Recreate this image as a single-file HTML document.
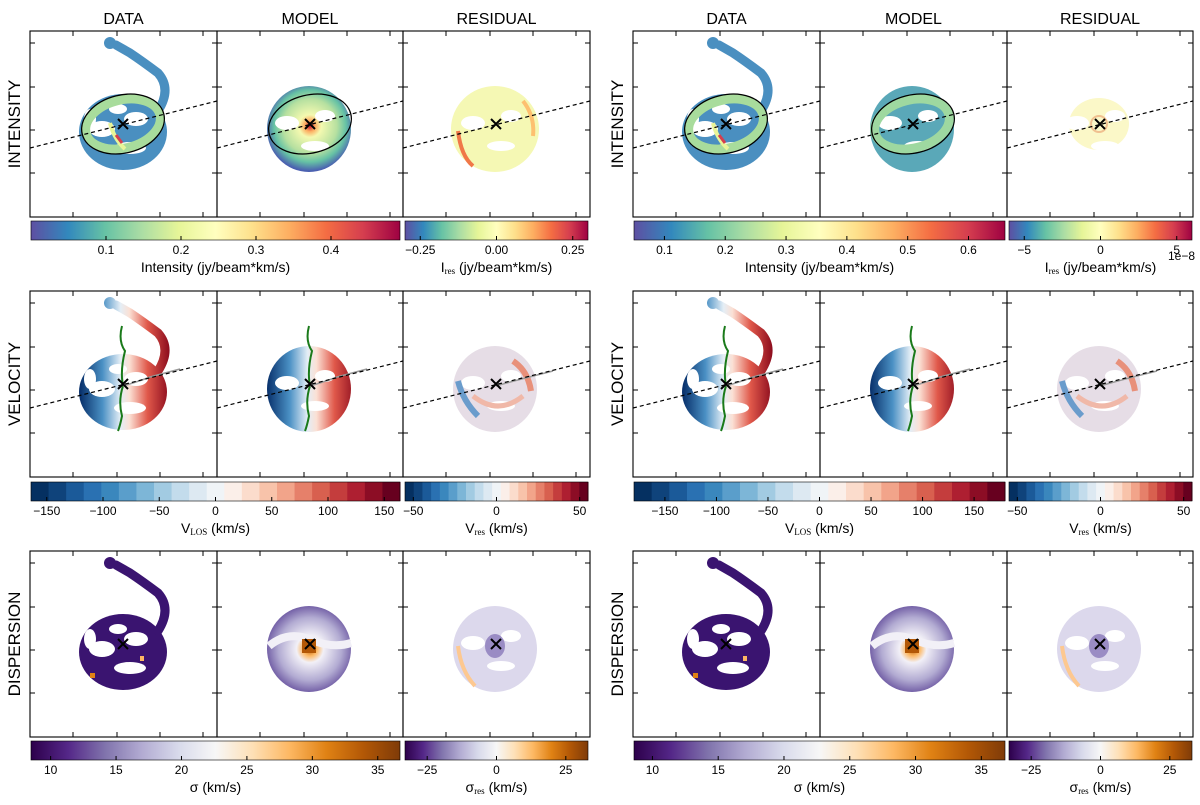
<!DOCTYPE html>
<html><head><meta charset="utf-8"><style>
body{margin:0;background:#fff}
svg{display:block;font-family:"Liberation Sans","DejaVu Sans",sans-serif}
</style></head><body>
<svg id="fig" width="1200" height="805" viewBox="0 0 1200 805" xmlns="http://www.w3.org/2000/svg">
<defs>
<linearGradient id="spectral" x1="0" x2="1"><stop offset="0" stop-color="#5e4fa2"/><stop offset=".1" stop-color="#3288bd"/><stop offset=".2" stop-color="#66c2a5"/><stop offset=".3" stop-color="#abdda4"/><stop offset=".4" stop-color="#e6f598"/><stop offset=".5" stop-color="#ffffbf"/><stop offset=".6" stop-color="#fee08b"/><stop offset=".7" stop-color="#fdae61"/><stop offset=".8" stop-color="#f46d43"/><stop offset=".9" stop-color="#d53e4f"/><stop offset="1" stop-color="#9e0142"/></linearGradient>
<linearGradient id="puor" x1="0" x2="1"><stop offset="0" stop-color="#2d004b"/><stop offset=".1" stop-color="#542788"/><stop offset=".2" stop-color="#8073ac"/><stop offset=".3" stop-color="#b2abd2"/><stop offset=".4" stop-color="#d8daeb"/><stop offset=".5" stop-color="#f7f7f7"/><stop offset=".6" stop-color="#fee0b6"/><stop offset=".7" stop-color="#fdb863"/><stop offset=".8" stop-color="#e08214"/><stop offset=".9" stop-color="#b35806"/><stop offset="1" stop-color="#7f3b08"/></linearGradient>
<linearGradient id="velg" gradientUnits="userSpaceOnUse" x1="50" x2="140"><stop offset="0" stop-color="#08306b"/><stop offset=".25" stop-color="#4a90c4"/><stop offset=".45" stop-color="#e4eef6"/><stop offset=".55" stop-color="#fbe0d4"/><stop offset=".75" stop-color="#e0584a"/><stop offset="1" stop-color="#8a0a1c"/></linearGradient>
<radialGradient id="modI" gradientUnits="userSpaceOnUse" cx="93" cy="95" r="45"><stop offset="0" stop-color="#c8102e"/><stop offset=".12" stop-color="#fdae61"/><stop offset=".25" stop-color="#f4f9b0"/><stop offset=".6" stop-color="#b6e0a0"/><stop offset=".8" stop-color="#66c2a5"/><stop offset="1" stop-color="#4a5fb0"/></radialGradient>
<radialGradient id="modS" gradientUnits="userSpaceOnUse" cx="93" cy="98" r="45"><stop offset="0" stop-color="#b35806"/><stop offset=".15" stop-color="#fdb863"/><stop offset=".3" stop-color="#f2f0f7"/><stop offset=".7" stop-color="#b2abd2"/><stop offset="1" stop-color="#6a55a0"/></radialGradient>
</defs>
<g id="panels"></g>
<g id="bars"></g>
</svg>
<script>
// ---- colorbar data ----
const cbIntL = {vmin:0, vmax:0.492, ticks:[0.1,0.2,0.3,0.4], labels:["0.1","0.2","0.3","0.4"]};
const cbIresL = {vmin:-0.30, vmax:0.30, ticks:[-0.25,0,0.25], labels:["\u22120.25","0.00","0.25"]};
const cbIntR = {vmin:0.05, vmax:0.66, ticks:[0.1,0.2,0.3,0.4,0.5,0.6], labels:["0.1","0.2","0.3","0.4","0.5","0.6"]};
const cbIresR = {vmin:-6, vmax:6, ticks:[-5,0,5], labels:["\u22125","0","5"]};
const cbVelL = {vmin:-164, vmax:164, ticks:[-150,-100,-50,0,50,100,150], labels:["\u2212150","\u2212100","\u221250","0","50","100","150"]};
const cbVelR = {vmin:-180, vmax:180, ticks:[-150,-100,-50,0,50,100,150], labels:["\u2212150","\u2212100","\u221250","0","50","100","150"]};
const cbVres = {vmin:-55, vmax:55, ticks:[-50,0,50], labels:["\u221250","0","50"]};
const cbSigL = {vmin:8.5, vmax:36.7, ticks:[10,15,20,25,30,35], labels:["10","15","20","25","30","35"]};
const cbSigR = {vmin:8.6, vmax:36.8, ticks:[10,15,20,25,30,35], labels:["10","15","20","25","30","35"]};
const cbSres = {vmin:-33, vmax:33, ticks:[-25,0,25], labels:["\u221225","0","25"]};
const rdbu = ["#053061","#0f437b","#1b5a99","#2a71b2","#3a87bd","#5a9ecb","#7db6d7","#a2cbe2","#c3dcec","#dde9f2","#f0f4f7","#fbefe9","#fbdccc","#f8c3aa","#f2a48a","#e6806a","#d8604f","#c43d3d","#ae1f31","#8c0d25","#67001f"];

const NS="http://www.w3.org/2000/svg";
function el(tag,attrs,parent){const e=document.createElementNS(NS,tag);for(const k in attrs)e.setAttribute(k,attrs[k]);if(parent)parent.appendChild(e);return e;}
const panelsG=document.getElementById('panels'), barsG=document.getElementById('bars');
const colsX=[[30,217,403,590],[633,820,1007,1193]];
const PH=186;
const rowsY=[31,291,551];
const colNames=["DATA","MODEL","RESIDUAL"], rowNames=["INTENSITY","VELOCITY","DISPERSION"];

function disk(g,fill,model){
  if(model){el('ellipse',{cx:92,cy:98,rx:42,ry:43,fill:fill},g);}
  else{
    el('ellipse',{cx:93,cy:101,rx:44,ry:38,fill:fill},g);
    el('path',{d:"M128,80 Q142,58 128,42 Q112,30 100,22 L86,14",fill:"none",stroke:fill,"stroke-width":9,"stroke-linecap":"round"},g);
    el('circle',{cx:80,cy:12,r:6,fill:fill},g);
  }
}
function holes(g,model){
  const hs=model?[[70,92,12,7],[108,85,10,6],[98,115,14,5]]:[[72,98,13,8],[106,88,12,7],[100,117,16,6],[88,78,9,5],[60,88,6,10]];
  hs.forEach(h=>el('ellipse',{cx:h[0],cy:h[1],rx:h[2],ry:h[3],fill:"#fff"},g));
}
function xmark(g){el('path',{d:"M88,88 L98,98 M98,88 L88,98",stroke:"#000","stroke-width":2},g);}
function dashed(g,w){el('line',{x1:0,y1:117,x2:w,y2:70,stroke:"#000","stroke-width":1.2,"stroke-dasharray":"4,3"},g);}

for(let gi=0;gi<2;gi++)for(let r=0;r<3;r++)for(let c=0;c<3;c++){
  const x=colsX[gi][c], y=rowsY[r], PW=colsX[gi][c+1]-x;
  const g=el('g',{transform:`translate(${x},${y})`},panelsG);
  
  
  const model=c>0;
  if(r===0){
    if(c===0){disk(g,"#4a8fc0",false);holes(g,false);
      el('ellipse',{cx:93,cy:93,rx:38,ry:24,fill:"none",stroke:"#a8dc9c","stroke-width":9,transform:"rotate(-14 93 93)"},g);
      el('path',{d:"M80,92 Q84,108 95,118",stroke:"#e8f598","stroke-width":4,fill:"none"},g);
      el('path',{d:"M86,104 L92,112",stroke:"#d53e4f","stroke-width":3},g);}
    else if(c===1){disk(g,gi? "#5aa8b8":"url(#modI)",true);holes(g,true);
      if(gi){el('ellipse',{cx:92,cy:93,rx:38,ry:24,fill:"none",stroke:"#9ed8a0","stroke-width":9,transform:"rotate(-14 92 93)"},g);}}
    else{ if(gi){el('ellipse',{cx:92,cy:93,rx:30,ry:26,fill:"#fbf8c8"},g);holes(g,true);el('circle',{cx:92,cy:93,r:8,fill:"none",stroke:"#f0c090","stroke-width":2},g);}
      else{el('ellipse',{cx:92,cy:98,rx:44,ry:43,fill:"#f5f8b4"},g);holes(g,true);
        el('path',{d:"M55,100 Q58,125 70,135",stroke:"#f07848","stroke-width":4,fill:"none"},g);
        el('path',{d:"M120,70 Q132,85 130,105",stroke:"#fdc070","stroke-width":4,fill:"none"},g);}}
    if(c<2) el('ellipse',{cx:93,cy:93,rx:42,ry:29,fill:"none",stroke:"#000","stroke-width":1.3,transform:"rotate(-14 93 93)"},g);
  } else if(r===1){
    if(c<2){disk(g,"url(#velg)",model);holes(g,model);
      el('path',{d:"M92,35 Q88,50 95,60 Q90,80 93,95 Q88,110 92,125 Q90,135 88,140",stroke:"#1a7a1a","stroke-width":2,fill:"none"},g);
      el('path',{d:"M93,95 Q110,90 120,86 Q135,82 150,78",stroke:"#999","stroke-width":1.5,fill:"none"},g);}
    else{disk(g,"#e6dde6",true);holes(g,true);
      el('path',{d:"M55,90 Q60,110 75,125",stroke:"#6a9ccc","stroke-width":6,fill:"none"},g);
      el('path',{d:"M110,70 Q125,80 128,100",stroke:"#e8907a","stroke-width":6,fill:"none"},g);
      el('path',{d:"M70,105 Q95,125 120,105",stroke:"#f0b8a8","stroke-width":5,fill:"none"},g);
      el('path',{d:"M93,95 Q110,90 150,80",stroke:"#999","stroke-width":1.5,fill:"none"},g);}
  } else {
    if(c===0){disk(g,"#3a1470",false);holes(g,false);
      el('rect',{x:60,y:122,width:5,height:5,fill:"#e08214"},g);el('rect',{x:110,y:105,width:4,height:5,fill:"#fdb863"},g);}
    else if(c===1){disk(g,"url(#modS)",true);
      el('path',{d:"M52,95 Q70,80 92,88 Q115,98 134,92",stroke:"#f2f0f7","stroke-width":8,fill:"none"},g);
      el('rect',{x:85,y:88,width:14,height:14,fill:"#b35806"},g);}
    else{disk(g,"#dcd8ec",true);holes(g,true);
      el('path',{d:"M55,95 Q58,120 72,135",stroke:"#fdc890","stroke-width":4,fill:"none"},g);
      el('ellipse',{cx:92,cy:95,rx:10,ry:12,fill:"#9a8cc4"},g);}
  }
  if(r!==2) dashed(g,PW);
  xmark(g);
  el('rect',{x:0,y:0,width:PW,height:PH,fill:"none",stroke:"#000","stroke-width":1.1},g);
  [43,87,130,173].forEach(t=>{el('line',{x1:t,y1:PH,x2:t,y2:PH-5,stroke:"#000"},g);el('line',{x1:t,y1:0,x2:t,y2:5,stroke:"#000"},g);});
  [12,56,99,142].forEach(t=>{el('line',{x1:0,y1:t,x2:5,y2:t,stroke:"#000"},g);el('line',{x1:PW,y1:t,x2:PW-5,y2:t,stroke:"#000"},g);});
}
// titles
for(let gi=0;gi<2;gi++){
  for(let c=0;c<3;c++){const t=el('text',{x:(colsX[gi][c]+colsX[gi][c+1])/2,y:24,"text-anchor":"middle","font-size":16},panelsG);t.textContent=colNames[c];
    
    }
  for(let r=0;r<3;r++){const cx=colsX[gi][0]-10, cy=rowsY[r]+PH/2;
    const t=el('text',{x:cx,y:cy,"text-anchor":"middle","font-size":17,transform:`rotate(-90 ${cx} ${cy})`},panelsG);t.textContent=rowNames[r];
    
    }
}
// colorbars
function colorbar(x0,x1,y,cb,fill,label,sub,discrete){
  const g=el('g',{},barsG);
  
  
  const h=19, w=x1-x0;
  const sx=v=>x0+(v-cb.vmin)/(cb.vmax-cb.vmin)*w;
  if(discrete){const n=rdbu.length;rdbu.forEach((col,i)=>el('rect',{x:x0+i*w/n,y:y,width:w/n+0.5,height:h,fill:col},g));}
  else el('rect',{x:x0,y:y,width:w,height:h,fill:fill},g);
  el('rect',{x:x0,y:y,width:w,height:h,fill:"none",stroke:"#000","stroke-width":0.6},g);
  cb.ticks.forEach((t,i)=>{const X=sx(t);el('line',{x1:X,y1:y+h,x2:X,y2:y+h-4,stroke:"#000"},g);
    const tx=el('text',{x:X,y:y+h+14,"text-anchor":"middle","font-size":12},g);tx.textContent=cb.labels[i];});
  const lt=el('text',{x:(x0+x1)/2,y:y+h+32,"text-anchor":"middle","font-size":14},g);
  lt.appendChild(document.createTextNode(label[0]));
  if(sub){const ts=el('tspan',{"font-size":9,"font-family":"Liberation Serif,serif",dy:2},lt);ts.textContent=sub;const t2=el('tspan',{dy:-2},lt);t2.textContent=label[1];}
}
const cbY=[221,482,741];
const L=[31,400,405,588], R=[634,1005,1009,1192];
colorbar(L[0],L[1],cbY[0],cbIntL,"url(#spectral)",["Intensity (jy/beam*km/s)"],null);
colorbar(L[2],L[3],cbY[0],cbIresL,"url(#spectral)",["I"," (jy/beam*km/s)"],"res");
colorbar(R[0],R[1],cbY[0],cbIntR,"url(#spectral)",["Intensity (jy/beam*km/s)"],null);
colorbar(R[2],R[3],cbY[0],cbIresR,"url(#spectral)",["I"," (jy/beam*km/s)"],"res");
colorbar(L[0],L[1],cbY[1],cbVelL,null,["V"," (km/s)"],"LOS",true);
colorbar(L[2],L[3],cbY[1],cbVres,null,["V"," (km/s)"],"res",true);
colorbar(R[0],R[1],cbY[1],cbVelR,null,["V"," (km/s)"],"LOS",true);
colorbar(R[2],R[3],cbY[1],cbVres,null,["V"," (km/s)"],"res",true);
colorbar(L[0],L[1],cbY[2],cbSigL,"url(#puor)",["σ (km/s)"],null);
colorbar(L[2],L[3],cbY[2],cbSres,"url(#puor)",["σ"," (km/s)"],"res");
colorbar(R[0],R[1],cbY[2],cbSigR,"url(#puor)",["σ (km/s)"],null);
colorbar(R[2],R[3],cbY[2],cbSres,"url(#puor)",["σ"," (km/s)"],"res");
const off=el('text',{x:1168,y:260,"font-size":12},barsG);off.textContent="1e\u22128";


</script>
</body></html>
